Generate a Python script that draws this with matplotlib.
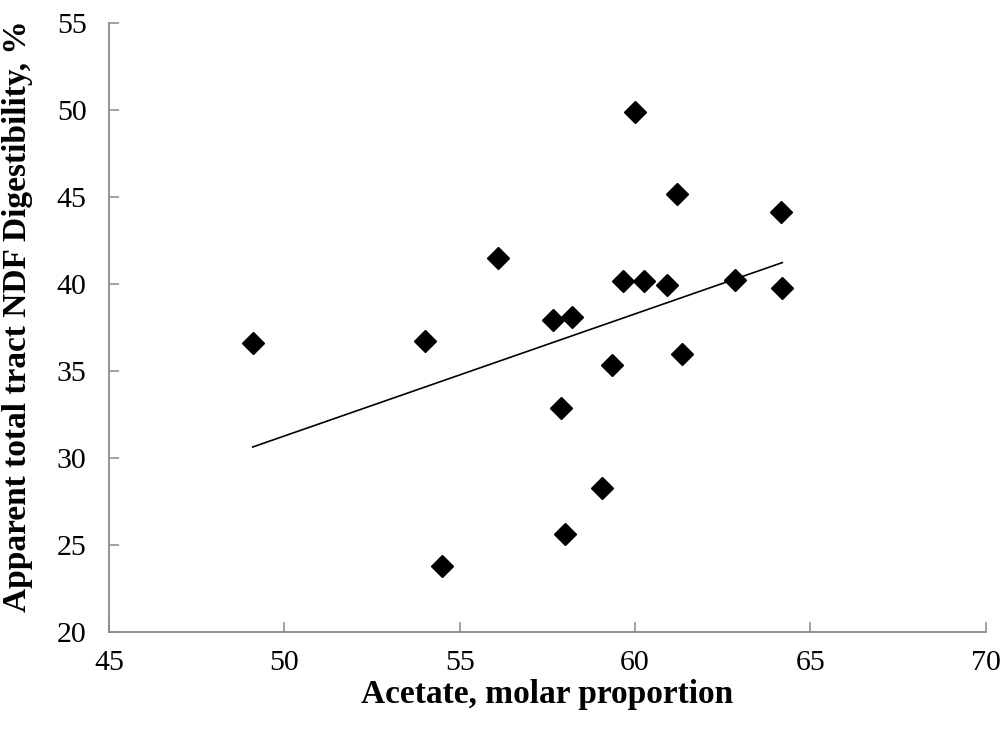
import matplotlib
matplotlib.use("Agg")
import matplotlib.pyplot as plt
import numpy as np

# acetate molar proportion vs apparent total tract NDF digestibility
acetate = [49.1, 54.0, 54.5, 56.1, 57.65, 57.9, 58.0, 58.2, 59.05, 59.35,
           59.65, 60.0, 60.25, 60.9, 61.2, 61.35, 62.85, 64.15, 64.2]
ndf_dig = [36.6, 36.7, 23.75, 41.5, 37.9, 32.85, 25.6, 38.1, 28.25, 35.35,
           40.15, 49.9, 40.15, 39.95, 45.15, 35.95, 40.2, 44.15, 39.75]

x_ticks = [45, 50, 55, 60, 65, 70]
y_ticks = [20, 25, 30, 35, 40, 45, 50, 55]

plt.rcParams['font.family'] = ['Liberation Serif', 'DejaVu Serif']

fig = plt.figure(figsize=(10.08, 7.35), dpi=100)
ax = fig.add_axes([0.108, 0.1405, 0.870, 0.8285])

ax.plot(acetate, ndf_dig, linestyle='none', marker='D', markersize=11,
        color='black', zorder=3)

# linear trendline
slope, intercept = np.polyfit(acetate, ndf_dig, 1)
xs = np.array([min(acetate), max(acetate)])
ax.plot(xs, slope * xs + intercept, color='black', linewidth=1.2, zorder=2)

ax.set_xlim(45, 70)
ax.set_ylim(20, 55)
ax.set_xticks(x_ticks)
ax.set_yticks(y_ticks)

for side in ['top', 'right']:
    ax.spines[side].set_visible(False)
for side in ['left', 'bottom']:
    ax.spines[side].set_color('#898989')
    ax.spines[side].set_linewidth(1.3)

ax.tick_params(direction='in', length=7, width=1.1, color='#898989',
               labelsize=21.5, pad=13)
ax.tick_params(axis='y', pad=16)

ax.set_xlabel('Acetate, molar proportion', fontsize=24, fontweight='bold',
              labelpad=2)
ax.set_ylabel('Apparent total tract NDF Digestibility, %', fontsize=24,
              fontweight='bold')
ax.yaxis.set_label_coords(-0.086, 0.518)

fig.savefig('out.png', dpi=100)
